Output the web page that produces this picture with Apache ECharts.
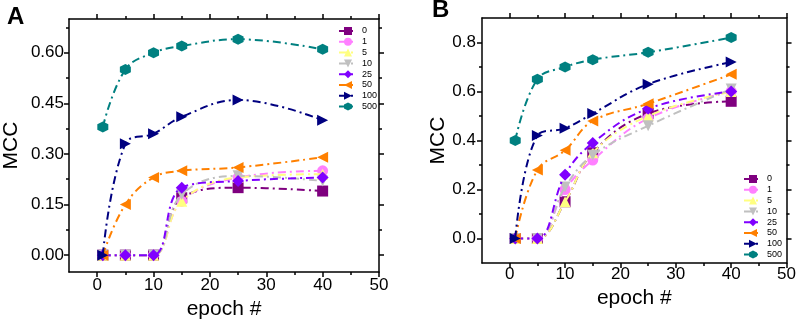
<!DOCTYPE html>
<html>
<head>
<meta charset="utf-8">
<script src="https://cdn.jsdelivr.net/npm/echarts@6/dist/echarts.min.js"></script>
<style>
  html, body { margin: 0; padding: 0; background: #fff; }
  #chart { width: 799px; height: 325px; }
</style>
</head>
<body>
<div id="chart"></div>
<script>
// epochs on the x axis
const epochs = [1, 5, 10, 15, 25, 40];
const seriesNames = ['0', '1', '5', '10', '25', '50', '100', '500'];

// panel A
const mccA_0   = [0, 0, 0, 0.17, 0.20, 0.19];
const mccA_1   = [0, 0, 0, 0.16, 0.23, 0.25];
const mccA_5   = [0, 0, 0, 0.16, 0.23, 0.24];
const mccA_10  = [0, 0, 0, 0.18, 0.235, 0.22];
const mccA_25  = [0, 0, 0, 0.20, 0.22, 0.23];
const mccA_50  = [0, 0.15, 0.23, 0.25, 0.26, 0.29];
const mccA_100 = [0, 0.33, 0.36, 0.41, 0.46, 0.40];
const mccA_500 = [0.38, 0.55, 0.60, 0.62, 0.64, 0.61];

// panel B
const mccB_0   = [0, 0, 0.15, 0.35, 0.51, 0.56];
const mccB_1   = [0, 0, 0.20, 0.32, 0.49, 0.60];
const mccB_5   = [0, 0, 0.15, 0.35, 0.50, 0.60];
const mccB_10  = [0, 0, 0.21, 0.34, 0.46, 0.61];
const mccB_25  = [0, 0, 0.26, 0.39, 0.53, 0.60];
const mccB_50  = [0, 0.28, 0.36, 0.48, 0.55, 0.67];
const mccB_100 = [0, 0.42, 0.45, 0.51, 0.63, 0.72];
const mccB_500 = [0.40, 0.65, 0.70, 0.73, 0.76, 0.82];

// tick labels
const xTicks  = [0, 10, 20, 30, 40, 50];
const xMinor  = [5, 15, 25, 35, 45];
const yTicksA = [0, 0.15, 0.30, 0.45, 0.60];
const yMinorA = [0.075, 0.225, 0.375, 0.525, 0.675];
const yTicksB = [0, 0.2, 0.4, 0.6, 0.8];
const yMinorB = [0.1, 0.3, 0.5, 0.7];

const colors  = ['#7f007f', '#ff80ff', '#ffff80', '#c0c0c0', '#8000ff', '#ff8000', '#000080', '#008080'];
const symbols = ['rect', 'circle', 'triangle', 'triangle', 'diamond', 'triangle', 'triangle',
  'path://M0,-1 L0.866,-0.5 L0.866,0.5 L0,1 L-0.866,0.5 L-0.866,-0.5 Z'];
const rotates = [0, 0, 0, 180, 0, 90, -90, 0];

const FONT = 'Liberation Sans, Arial, sans-serif';

// 4 axes per direction: main (labels + major ticks) and overlays for minor ticks / mirrored side
function makeAxes(dim, gi, min, max, majors, minors, fmt, name, nameGap, margin) {
  const pos = dim === 'x' ? ['bottom', 'top'] : ['left', 'right'];
  const line = { show: true, onZero: false, lineStyle: { color: '#000', width: 1.5 } };
  const noLine = { show: false, onZero: false };
  const base = { type: 'value', gridIndex: gi, min: min, max: max, splitLine: { show: false } };
  return [
    Object.assign({}, base, {
      position: pos[0], name: name, nameLocation: 'middle', nameGap: nameGap,
      nameTextStyle: { fontSize: 21, color: '#000', fontFamily: FONT },
      axisLine: line,
      axisTick: { show: true, customValues: majors, length: 5, lineStyle: { color: '#000', width: 1.5 } },
      axisLabel: { customValues: majors, formatter: fmt, margin: margin, fontSize: 17, color: '#000', fontFamily: FONT }
    }),
    Object.assign({}, base, {
      position: pos[0], axisLine: noLine,
      axisTick: { show: true, customValues: minors, length: 3, lineStyle: { color: '#000', width: 1.5 } },
      axisLabel: { show: false }
    }),
    Object.assign({}, base, {
      position: pos[1], axisLine: line,
      axisTick: { show: true, customValues: majors, length: 5, lineStyle: { color: '#000', width: 1.5 } },
      axisLabel: { show: false }
    }),
    Object.assign({}, base, {
      position: pos[1], axisLine: noLine,
      axisTick: { show: true, customValues: minors, length: 3, lineStyle: { color: '#000', width: 1.5 } },
      axisLabel: { show: false }
    })
  ];
}

function makeSeries(vals, axisIdx) {
  return vals.map(function (v, k) {
    return {
      type: 'line',
      name: seriesNames[k],
      xAxisIndex: axisIdx,
      yAxisIndex: axisIdx,
      data: epochs.map(function (e, i) { return [e, v[i]]; }),
      smooth: 0.4,
      symbol: symbols[k],
      symbolRotate: rotates[k],
      symbolSize: k === 4 ? 12 : 11,
      itemStyle: { color: colors[k], opacity: 1 },
      lineStyle: { color: colors[k], width: 2, type: [8, 4, 2, 4] },
      z: 2 + k
    };
  });
}

const seriesA = [mccA_0, mccA_1, mccA_5, mccA_10, mccA_25, mccA_50, mccA_100, mccA_500];
const seriesB = [mccB_0, mccB_1, mccB_5, mccB_10, mccB_25, mccB_50, mccB_100, mccB_500];

const fmtX = function (v) { return String(v); };
const fmtA = function (v) { return v.toFixed(2); };
const fmtB = function (v) { return v.toFixed(1); };

const legendBase = {
  orient: 'vertical', itemWidth: 18, itemHeight: 10, itemGap: 0.8, padding: 0,
  textStyle: { fontSize: 9, color: '#000', fontFamily: FONT, lineHeight: 10 },
  data: seriesNames
};

let myChart = echarts.init(document.getElementById('chart'));
let option = {
  animation: false,
  backgroundColor: '#fff',
  title: [
    { text: 'A', left: 7, top: 5, padding: 0, textStyle: { fontSize: 24, fontWeight: 'bold', color: '#000', fontFamily: FONT } },
    { text: 'B', left: 432, top: -2, padding: 0, textStyle: { fontSize: 24, fontWeight: 'bold', color: '#000', fontFamily: FONT } }
  ],
  legend: [
    Object.assign({}, legendBase, { left: 338, top: 26 }),
    Object.assign({}, legendBase, { left: 743, top: 174 })
  ],
  grid: [
    { left: 67, top: 19, width: 312, height: 253 },
    { left: 482, top: 18, width: 307, height: 245 }
  ],
  xAxis: [].concat(
    makeAxes('x', 0, -5, 50, xTicks, xMinor, fmtX, 'epoch #', 27, 5),
    makeAxes('x', 1, -5, 50, xTicks, xMinor, fmtX, 'epoch #', 24, 3)
  ),
  yAxis: [].concat(
    makeAxes('y', 0, -0.05, 0.70, yTicksA, yMinorA, fmtA, 'MCC', 47, 5),
    makeAxes('y', 1, -0.1, 0.9, yTicksB, yMinorB, fmtB, 'MCC', 32, 6)
  ),
  series: [].concat(makeSeries(seriesA, 0), makeSeries(seriesB, 4))
};
myChart.setOption(option);
</script>
</body>
</html>
